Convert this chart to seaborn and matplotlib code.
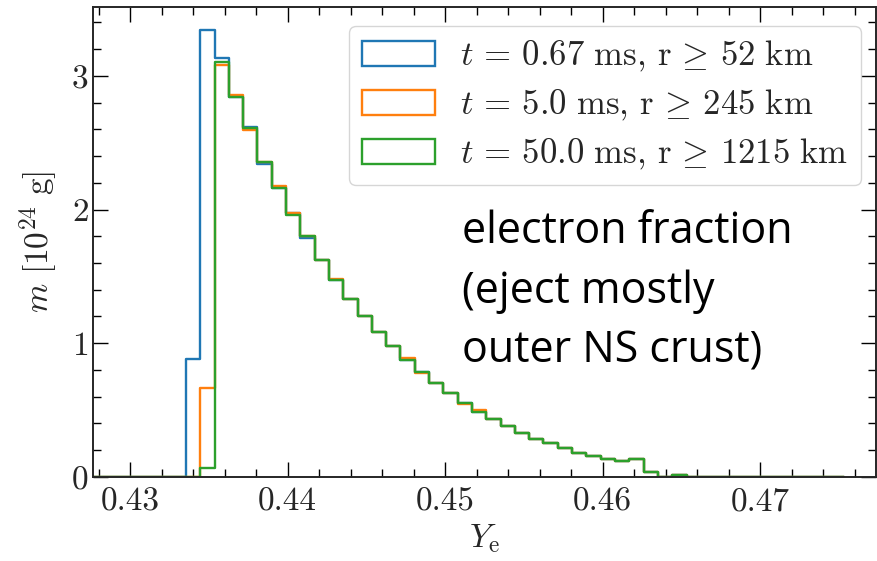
import numpy as np
import pandas as pd
import matplotlib
matplotlib.use('Agg')
import matplotlib.pyplot as plt
from matplotlib.patches import Patch
import seaborn as sns

# histogram binning (Ye)
ye_range = (0.42718, 0.47531)
n_bins = 53
first_bin = 7  # index of first bin with mass

# mass per bin [1e24 g], starting at first_bin
m_early = [0.88, 3.343, 3.13, 2.84, 2.62, 2.34, 2.163, 1.972, 1.79, 1.622, 1.47, 1.328,
           1.203, 1.081, 0.978, 0.873, 0.786, 0.699, 0.624, 0.549, 0.487, 0.430, 0.380,
           0.330, 0.284, 0.250, 0.213, 0.180, 0.155, 0.130, 0.115, 0.135, 0.04, 0.0, 0.017]
m_mid = [0.0, 0.666, 3.085, 2.857, 2.595, 2.358, 2.178, 1.976, 1.80, 1.622, 1.478, 1.328,
         1.203, 1.081, 0.978, 0.886, 0.774, 0.705, 0.624, 0.545, 0.499, 0.430, 0.380,
         0.330, 0.284, 0.250, 0.213, 0.180, 0.155, 0.130, 0.115, 0.135, 0.04, 0.0, 0.017]
m_late = [0.0, 0.063, 3.106, 2.844, 2.608, 2.358, 2.163, 1.959, 1.80, 1.622, 1.472, 1.328,
          1.203, 1.083, 0.980, 0.873, 0.786, 0.699, 0.624, 0.549, 0.487, 0.430, 0.380,
          0.330, 0.284, 0.250, 0.213, 0.180, 0.155, 0.130, 0.115, 0.135, 0.04, 0.0, 0.017]

labels = [r'$t\,=\,0.67\ \mathrm{ms},\,\mathrm{r}\,\geq\,52\ \mathrm{km}$',
          r'$t\,=\,5.0\ \mathrm{ms},\,\mathrm{r}\,\geq\,245\ \mathrm{km}$',
          r'$t\,=\,50.0\ \mathrm{ms},\,\mathrm{r}\,\geq\,1215\ \mathrm{km}$']
colors = ['#1f77b4', '#ff7f0e', '#2ca02c']

sns.set_style('ticks')
plt.rcParams['font.family'] = 'serif'
plt.rcParams['font.serif'] = ['cmr10']
plt.rcParams['mathtext.fontset'] = 'cm'
plt.rcParams['axes.formatter.use_mathtext'] = True

edges = np.linspace(ye_range[0], ye_range[1], n_bins + 1)
centers = 0.5 * (edges[:-1] + edges[1:])

rows = []
for lab, m in zip(labels, [m_early, m_mid, m_late]):
    for i, v in enumerate(m):
        rows.append({'Ye': centers[first_bin + i], 'm': v, 'series': lab})
df = pd.DataFrame(rows)

fig = plt.figure(figsize=(8.78, 5.61), dpi=100)
ax = fig.add_axes([0.1063, 0.150, 0.8914, 0.837])

for lab, c in zip(labels, colors):
    sub = df[df['series'] == lab]
    sns.histplot(data=sub, x='Ye', weights='m', bins=n_bins, binrange=ye_range,
                 element='step', fill=False, color=c, linewidth=1.7, ax=ax)

ax.set_xlim(0.42766, 0.47735)
ax.set_ylim(0, 3.513)
ax.set_xticks([0.43, 0.44, 0.45, 0.46, 0.47])
ax.set_xticklabels(['0.43', '0.44', '0.45', '0.46', '0.47'])
ax.set_yticks([0, 1, 2, 3])
ax.set_xticks(np.arange(0.428, 0.4775, 0.002), minor=True)
ax.set_yticks(np.arange(0, 3.5, 0.2), minor=True)
ax.tick_params(which='both', direction='in', top=True, right=True, labelsize=24,
               width=1.0, color='black')
ax.tick_params(which='major', length=11)
ax.tick_params(which='minor', length=6)
ax.tick_params(axis='x', pad=8)
for s in ax.spines.values():
    s.set_linewidth(1.4)

ax.set_xlabel(r'$Y_\mathrm{e}$', fontsize=24, labelpad=4)
ax.set_ylabel(r'$m\ [10^{24}\ \mathrm{g}]$', fontsize=24, labelpad=8)

handles = [Patch(facecolor='none', edgecolor=c, linewidth=1.7) for c in colors]
ax.legend(handles, labels, loc='upper right', bbox_to_anchor=(0.9808, 0.960),
          borderaxespad=0, fontsize=25, handlelength=2.1, handleheight=0.75,
          handletextpad=0.7, labelspacing=0.4, borderpad=0.38, frameon=True,
          fancybox=True, edgecolor='0.8', framealpha=0.8)

fig.text(461.7 / 878, 1 - 210 / 561, 'electron fraction\n(eject mostly\nouter NS crust)',
         family=['Open Sans', 'DejaVu Sans'], fontsize=31, va='top', ha='left',
         linespacing=1.45, color='black')

fig.savefig('out.png', dpi=100)
